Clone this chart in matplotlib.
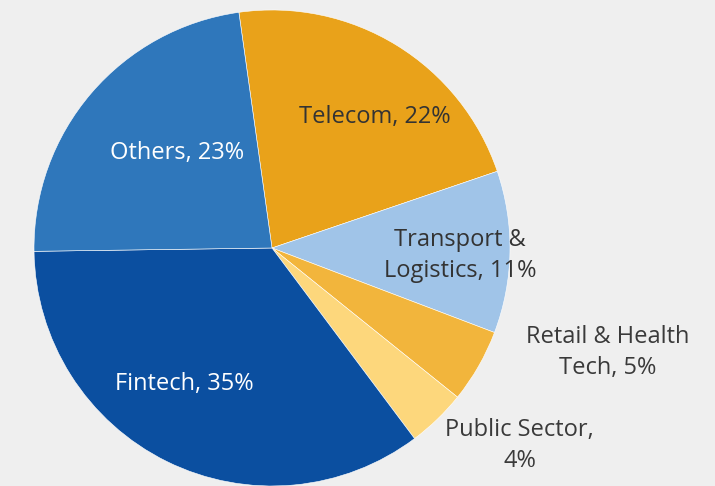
import matplotlib.pyplot as plt
import numpy as np

sectors = ["Telecom", "Transport &\nLogistics", "Retail & Health\nTech", "Public Sector,\n", "Fintech", "Others"]
shares = [22, 11, 5, 4, 35, 23]
colors = ["#e9a21a", "#a0c4e8", "#f2b53c", "#fdd77c", "#0b4fa0", "#2f77bb"]

# label layout: (x, y) offset from centre in radius units, text colour
label_pos = [(0.43, 0.55), (0.79, -0.03), (1.41, -0.44), (1.04, -0.83), (-0.37, -0.57), (-0.40, 0.40)]
label_col = ["#333333", "#333333", "#3a3a3a", "#3a3a3a", "white", "white"]

plt.rcParams['font.family'] = ['Open Sans', 'DejaVu Sans']

fig = plt.figure(figsize=(7.15, 4.86), dpi=100)
fig.patch.set_facecolor("#efefef")

r_px = 238
cx, cy = 272, 248
ax = fig.add_axes([(cx - r_px) / 715, (486 - cy - r_px) / 486, 2 * r_px / 715, 2 * r_px / 486])
ax.pie(shares, colors=colors, startangle=98, counterclock=False, radius=1,
       wedgeprops=dict(edgecolor="white", linewidth=0.4))
ax.set_xlim(-1, 1)
ax.set_ylim(-1, 1)
ax.set_aspect("equal")
ax.axis("off")

for name, val, (lx, ly), c in zip(sectors, shares, label_pos, label_col):
    if name.endswith("\n"):
        txt = name + f"{val}%"
    elif "\n" in name:
        txt = name + f", {val}%"
    else:
        txt = f"{name}, {val}%"
    ax.text(lx, ly, txt, ha="center", va="center", fontsize=17, color=c,
            linespacing=1.4, clip_on=False)

plt.savefig("out.png", dpi=100, facecolor=fig.get_facecolor())
